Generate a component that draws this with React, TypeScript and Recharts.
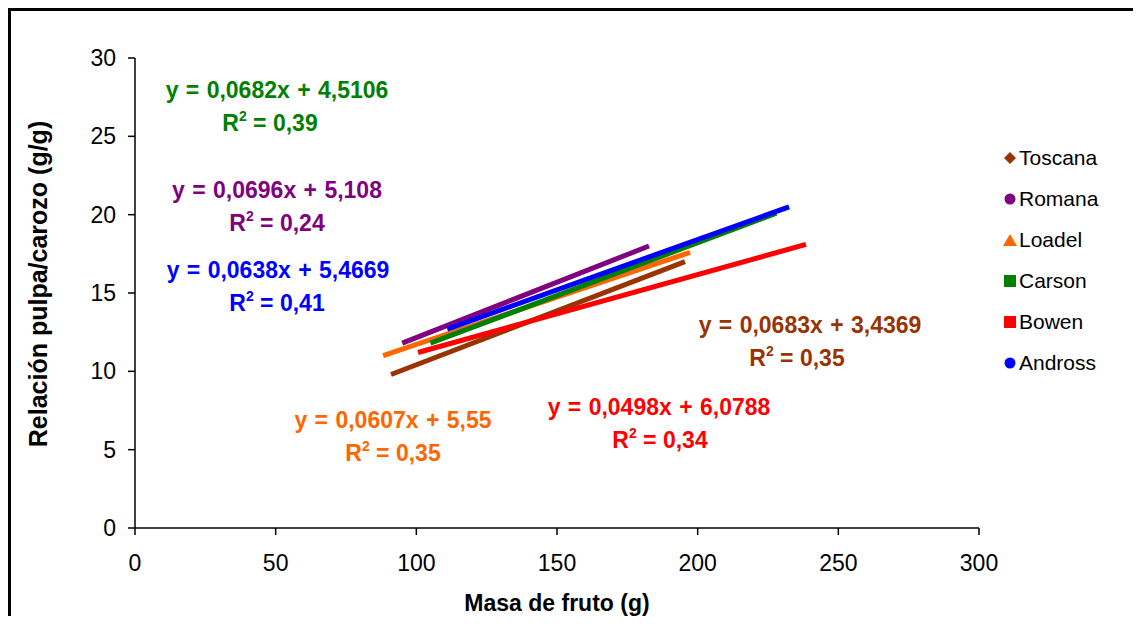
import { LineChart, Line, XAxis, YAxis, Customized } from "recharts";

// trend line endpoints (masa de fruto g, relación pulpa/carozo)
const toscana = [{ x: 91, y: 9.8 }, { x: 195.5, y: 17.0 }];
const romana = [{ x: 95, y: 11.8 }, { x: 182.7, y: 18.0 }];
const loadel = [{ x: 88.2, y: 11.0 }, { x: 197.3, y: 17.6 }];
const carson = [{ x: 105, y: 11.8 }, { x: 228, y: 20.1 }];
const bowen = [{ x: 100.6, y: 11.2 }, { x: 238.5, y: 18.1 }];
const andross = [{ x: 111, y: 12.7 }, { x: 232.5, y: 20.5 }];

const xTicks = [0, 50, 100, 150, 200, 250, 300];
const yTicks = [0, 5, 10, 15, 20, 25, 30];

const series = [
  { name: "Toscana", data: toscana, color: "#993300", marker: "diamond" },
  { name: "Romana", data: romana, color: "#800080", marker: "circle" },
  { name: "Loadel", data: loadel, color: "#FF6600", marker: "triangle" },
  { name: "Carson", data: carson, color: "#008000", marker: "square" },
  { name: "Bowen", data: bowen, color: "#FF0000", marker: "square" },
  { name: "Andross", data: andross, color: "#0000FF", marker: "circle" },
];

const equations = [
  { eq: "y = 0,0682x + 4,5106", r2: "0,39", color: "#008000", x: 266, y: 87, rx: 259 },
  { eq: "y = 0,0696x + 5,108", r2: "0,24", color: "#800080", x: 266, y: 187, rx: 266 },
  { eq: "y = 0,0638x + 5,4669", r2: "0,41", color: "#0000FF", x: 267, y: 267, rx: 266 },
  { eq: "y = 0,0683x + 3,4369", r2: "0,35", color: "#993300", x: 799, y: 322, rx: 786 },
  { eq: "y = 0,0498x + 6,0788", r2: "0,34", color: "#FF0000", x: 648, y: 404, rx: 649 },
  { eq: "y = 0,0607x + 5,55", r2: "0,35", color: "#FF6600", x: 382, y: 417, rx: 382 },
];

const font = "Arial, 'Liberation Sans', sans-serif";

function Marker({ type, color }: { type: string; color: string }) {
  return (
    <svg width={16} height={16} style={{ marginRight: 1 }}>
      {type === "diamond" && <polygon points="8,2 14,8 8,14 2,8" fill={color} />}
      {type === "circle" && <circle cx={8} cy={8} r={5.5} fill={color} />}
      {type === "triangle" && <polygon points="8,2 15,14 1,14" fill={color} />}
      {type === "square" && <rect x={2} y={2} width={12} height={12} fill={color} />}
    </svg>
  );
}

function LegendBox() {
  return (
    <div style={{ position: "absolute", left: 991, top: 126, fontFamily: font, fontSize: 21 }}>
      {series.map((s) => (
        <div key={s.name} style={{ display: "flex", alignItems: "center", height: 41, color: "#000" }}>
          <Marker type={s.marker} color={s.color} />
          <span>{s.name}</span>
        </div>
      ))}
    </div>
  );
}

function Annotations() {
  return (
    <g fontFamily={font} fontWeight="bold" fontSize={23}>
      {equations.map((e, i) => (
        <g key={i} fill={e.color}>
          <text x={e.x} y={e.y} textAnchor="middle" wordSpacing={1}>{e.eq}</text>
          <text x={e.rx} y={e.y + 33} textAnchor="middle">
            R<tspan fontSize={14} dy={-10}>2</tspan>
            <tspan dy={10}> = {e.r2}</tspan>
          </text>
        </g>
      ))}
      <text x={546} y={600} textAnchor="middle" fill="#000">Masa de fruto (g)</text>
      <text x={27} y={273} textAnchor="middle" fill="#000" fontSize={25} transform="rotate(-90 27 273)" dy={9}>
        Relación pulpa/carozo (g/g)
      </text>
    </g>
  );
}

export default function App() {
  return (
    <div
      style={{
        position: "relative",
        width: 1125,
        height: 608,
        boxSizing: "border-box",
        borderLeft: "3px solid #000",
        borderTop: "3px solid #000",
        background: "#fff",
      }}
    >
      <LineChart width={1122} height={605} margin={{ top: 47, right: 154, left: 0, bottom: 0 }}>
        <XAxis
          type="number"
          dataKey="x"
          domain={[0, 300]}
          ticks={xTicks}
          allowDuplicatedCategory={false}
          height={88}
          stroke="#000"
          strokeWidth={1.5}
          tickSize={7}
          tickMargin={20}
          tick={{ fontSize: 23, fill: "#000", fontFamily: font }}
        />
        <YAxis
          type="number"
          domain={[0, 30]}
          ticks={yTicks}
          width={124}
          stroke="#000"
          strokeWidth={1.5}
          tickSize={7}
          tickMargin={12}
          tick={{ fontSize: 23, fill: "#000", fontFamily: font }}
        />
        {series.map((s) => (
          <Line
            key={s.name}
            data={s.data}
            dataKey="y"
            name={s.name}
            stroke={s.color}
            strokeWidth={5}
            dot={false}
            activeDot={false}
            isAnimationActive={false}
          />
        ))}
        <Customized component={<Annotations />} />
      </LineChart>
      <LegendBox />
    </div>
  );
}
